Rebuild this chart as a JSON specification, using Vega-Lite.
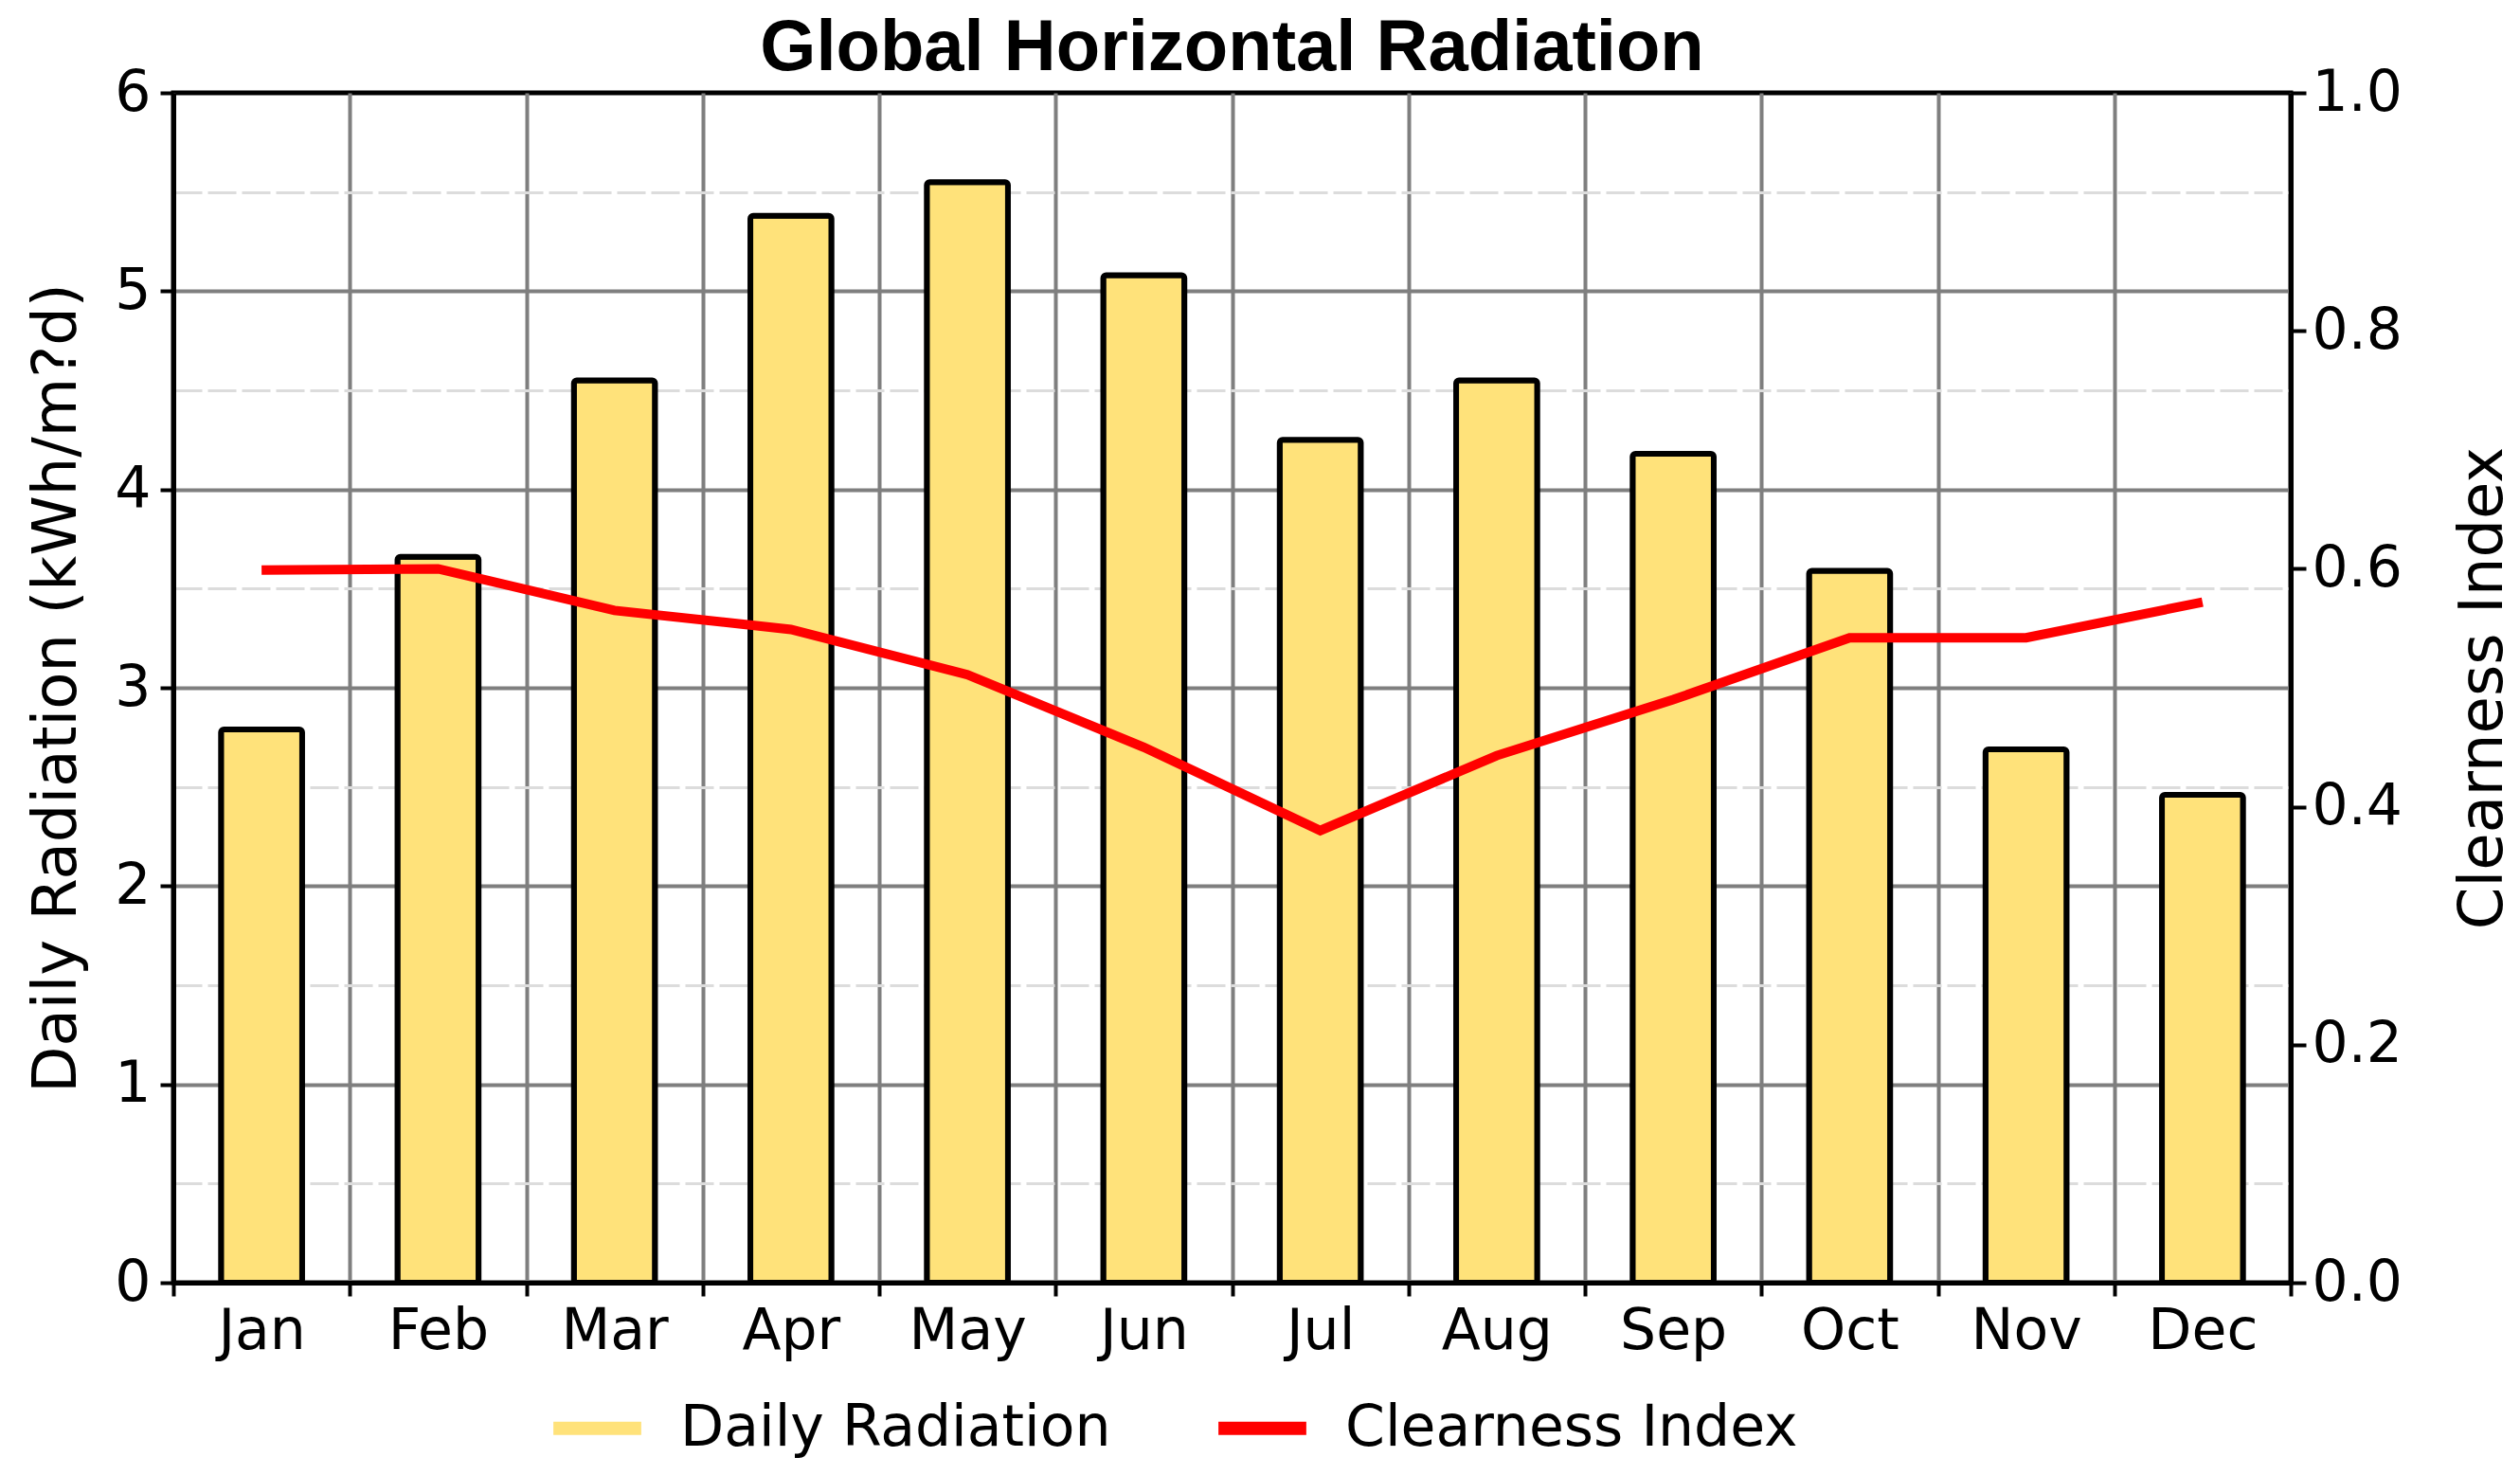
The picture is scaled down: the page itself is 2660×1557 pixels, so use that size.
{
  "$schema": "https://vega.github.io/schema/vega-lite/v6.json",
  "width": 2235,
  "height": 1256,
  "autosize": {"type": "none"},
  "padding": {"left": 183, "top": 98, "right": 242, "bottom": 203},
  "background": "white",
  "title": {
    "text": "Global Horizontal Radiation",
    "font": "Liberation Sans",
    "fontSize": 76,
    "fontWeight": "bold",
    "color": "black",
    "anchor": "middle",
    "offset": -22
  },
  "data": {
    "values": [
      {"month": "Jan", "radiation": 2.79, "clearness": 0.599},
      {"month": "Feb", "radiation": 3.66, "clearness": 0.600},
      {"month": "Mar", "radiation": 4.55, "clearness": 0.565},
      {"month": "Apr", "radiation": 5.38, "clearness": 0.549},
      {"month": "May", "radiation": 5.55, "clearness": 0.511},
      {"month": "Jun", "radiation": 5.08, "clearness": 0.450},
      {"month": "Jul", "radiation": 4.25, "clearness": 0.380},
      {"month": "Aug", "radiation": 4.55, "clearness": 0.443},
      {"month": "Sep", "radiation": 4.18, "clearness": 0.490},
      {"month": "Oct", "radiation": 3.59, "clearness": 0.542},
      {"month": "Nov", "radiation": 2.69, "clearness": 0.542},
      {"month": "Dec", "radiation": 2.46, "clearness": 0.572}
    ]
  },
  "encoding": {
    "x": {
      "field": "month",
      "type": "ordinal",
      "sort": null,
      "title": null,
      "scale": {"paddingInner": 0, "paddingOuter": 0},
      "axis": {
        "tickBand": "extent",
        "grid": true,
        "gridColor": "#7f7f7f",
        "gridWidth": 4,
        "labelAngle": 0,
        "labelFont": "DejaVu Sans",
        "labelFontSize": 60,
        "labelColor": "black",
        "labelPadding": 8,
        "tickSize": 14,
        "tickWidth": 4,
        "tickColor": "black",
        "domainColor": "black",
        "domainWidth": 5
      }
    }
  },
  "layer": [
    {
      "mark": {"type": "bar", "stroke": "black", "strokeWidth": 6, "cornerRadius": 3, "width": {"band": 0.46}},
      "encoding": {
        "y": {
          "field": "radiation",
          "type": "quantitative",
          "title": "Daily Radiation (kWh/m?d)",
          "scale": {"domain": [0, 6], "nice": false},
          "axis": {
            "values": [0, 0.5, 1, 1.5, 2, 2.5, 3, 3.5, 4, 4.5, 5, 5.5, 6],
            "labelExpr": "datum.value % 1 === 0 ? format(datum.value, 'd') : ''",
            "grid": true,
            "gridColor": {"condition": {"test": "datum.value % 1 !== 0", "value": "#dcdcdc"}, "value": "#7f7f7f"},
            "gridWidth": {"condition": {"test": "datum.value % 1 !== 0", "value": 3}, "value": 4},
            "gridDash": {"condition": {"test": "datum.value % 1 !== 0", "value": [30, 6]}, "value": []},
            "gridOpacity": {"condition": {"test": "datum.value === 0 || datum.value === 6", "value": 0}, "value": 1},
            "tickOpacity": {"condition": {"test": "datum.value % 1 !== 0", "value": 0}, "value": 1},
            "labelFont": "DejaVu Sans",
            "labelFontSize": 60,
            "labelColor": "black",
            "labelPadding": 10,
            "tickSize": 14,
            "tickWidth": 4,
            "tickColor": "black",
            "domainColor": "black",
            "domainWidth": 5,
            "titleFont": "DejaVu Sans",
            "titleFontSize": 64,
            "titleFontWeight": "normal",
            "titleColor": "black",
            "titlePadding": 28
          }
        },
        "color": {
          "datum": "Daily Radiation",
          "scale": {"domain": ["Daily Radiation", "Clearness Index"], "range": ["#ffe27a", "#ff0000"]},
          "legend": {
            "title": null,
            "orient": "none",
            "direction": "horizontal",
            "legendX": 394,
            "legendY": 1356,
            "symbolType": "stroke",
            "symbolSize": 8600,
            "symbolStrokeWidth": 14,
            "labelFont": "DejaVu Sans",
            "labelFontSize": 60,
            "labelColor": "black",
            "labelOffset": 34,
            "columnPadding": 85,
            "labelLimit": 800,
            "encode": {"symbols": {"update": {"stroke": {"scale": "color", "field": "value"}, "fill": {"value": "transparent"}}}}
          }
        }
      }
    },
    {
      "mark": {"type": "line", "strokeWidth": 10, "interpolate": "linear"},
      "encoding": {
        "y": {
          "field": "clearness",
          "type": "quantitative",
          "title": "Clearness Index",
          "scale": {"domain": [0, 1], "nice": false},
          "axis": {
            "orient": "right",
            "values": [0, 0.2, 0.4, 0.6, 0.8, 1.0],
            "format": ".1f",
            "grid": false,
            "labelFont": "DejaVu Sans",
            "labelFontSize": 60,
            "labelColor": "black",
            "labelPadding": 6,
            "tickSize": 16,
            "tickWidth": 4,
            "tickColor": "black",
            "domainColor": "black",
            "domainWidth": 5,
            "titleFont": "DejaVu Sans",
            "titleFontSize": 64,
            "titleFontWeight": "normal",
            "titleColor": "black",
            "titleAngle": 270,
            "titleBaseline": "top",
            "titlePadding": 54
          }
        },
        "color": {"datum": "Clearness Index"}
      }
    }
  ],
  "resolve": {"scale": {"y": "independent"}},
  "config": {
    "view": {"stroke": "black", "strokeWidth": 5},
    "font": "DejaVu Sans"
  }
}
